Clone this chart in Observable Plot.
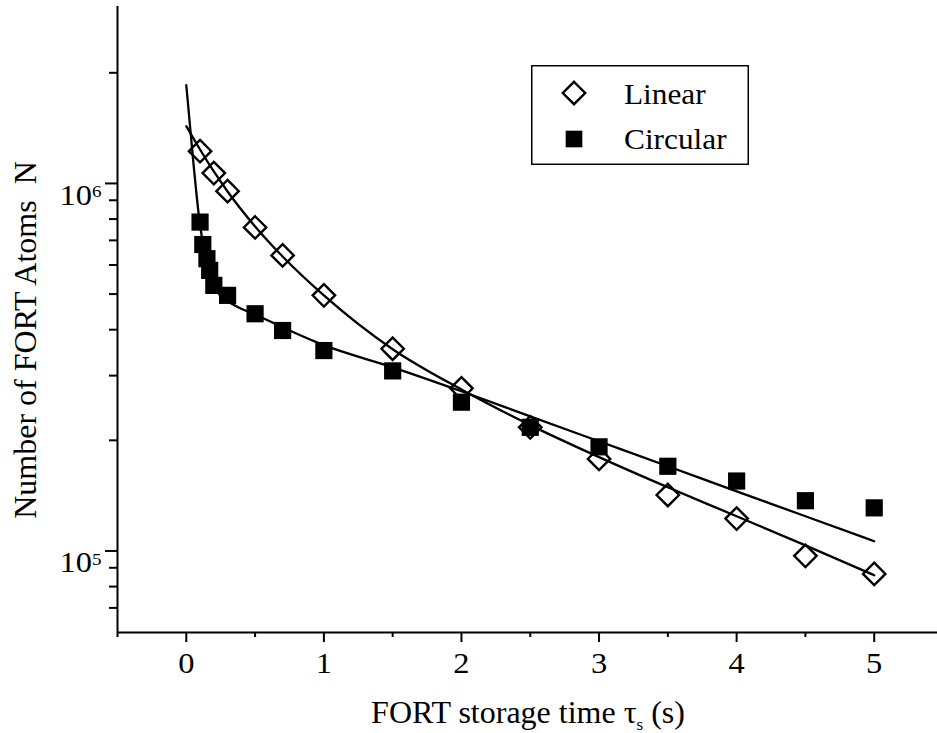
<!DOCTYPE html>
<html>
<head>
<meta charset="utf-8">
<script src="https://cdn.jsdelivr.net/npm/d3@7"></script>
<script src="https://cdn.jsdelivr.net/npm/@observablehq/plot@0.6"></script>
<style>
  body { margin: 0; background: #fff; }
  #wrap { position: relative; width: 937px; height: 733px; overflow: hidden; }
  #legend { position: absolute; left: 531px; top: 65px; }
</style>
</head>
<body>
<div id="wrap"></div>
<script>
// ---- data ----
const linearT = [0.1, 0.2, 0.3, 0.5, 0.7, 1.0, 1.5, 2.0, 2.5, 3.0, 3.5, 4.0, 4.5, 5.0];
const linearN = [1.224e6, 1.067e6, 9.53e5, 7.59e5, 6.37e5, 4.96e5, 3.55e5, 2.77e5, 2.17e5, 1.78e5, 1.42e5, 1.225e5, 9.7e4, 8.66e4];

const circularT = [0.1, 0.12, 0.15, 0.17, 0.2, 0.3, 0.5, 0.7, 1.0, 1.5, 2.0, 2.5, 3.0, 3.5, 4.0, 4.5, 5.0];
const circularN = [7.85e5, 6.82e5, 6.24e5, 5.80e5, 5.28e5, 4.96e5, 4.42e5, 3.98e5, 3.51e5, 3.09e5, 2.54e5, 2.17e5, 1.92e5, 1.70e5, 1.55e5, 1.37e5, 1.31e5];

const linearFitT = [0, 0.1, 0.2, 0.3, 0.5, 0.7, 1.0, 1.5, 2.0, 2.5, 3.0, 3.5, 4.0, 4.5, 5.0];
const linearFitN = [1.432e6, 1.237e6, 1.078e6, 9.51e5, 7.64e5, 6.33e5, 4.96e5, 3.54e5, 2.75e5, 2.20e5, 1.80e5, 1.49e5, 1.243e5, 1.036e5, 8.59e4];

const circularFitT = [0, 0.05, 0.1, 0.15, 0.2, 0.25, 0.3, 0.4, 0.5, 0.7, 1.0, 1.5, 2.0, 2.5, 3.0, 3.5, 4.0, 4.5, 5.0];
const circularFitN = [1.85e6, 1.155e6, 7.69e5, 6.10e5, 5.28e5, 4.93e5, 4.78e5, 4.56e5, 4.40e5, 4.06e5, 3.63e5, 3.16e5, 2.72e5, 2.325e5, 1.988e5, 1.70e5, 1.453e5, 1.243e5, 1.063e5];

const xMajorTicks = [0, 1, 2, 3, 4, 5];
const xMinorTicks = [-0.5, 0.5, 1.5, 2.5, 3.5, 4.5];
const yMajorTicks = [1e5, 1e6];
const yMinorTicks = [7e4, 8e4, 9e4, 2e5, 3e5, 4e5, 5e5, 6e5, 7e5, 8e5, 9e5, 2e6];
const xDomain = [-0.5, 5.46];
const yDomain = [6.0e4, 3.03e6];

const seriesNames = ["Linear", "Circular"];
const xTitle = ["FORT storage time τ", "s", " (s)"];
const yTitle = "Number of FORT Atoms  N";

// ---- tables ----
const zip = (T, N) => T.map((t, i) => ({t, n: N[i]}));
const linear = zip(linearT, linearN);
const circular = zip(circularT, circularN);
const linearFit = zip(linearFitT, linearFitN);
const circularFit = zip(circularFitT, circularFitN);

const font = '"Liberation Serif", "Times New Roman", serif';

const chart = Plot.plot({
  width: 937,
  height: 733,
  marginLeft: 117,
  marginRight: 0,
  marginTop: 6,
  marginBottom: 101,
  style: {fontFamily: font, fontSize: "29px", background: "#fff", color: "#000", overflow: "visible"},
  x: {domain: xDomain, label: null},
  y: {type: "log", domain: yDomain, label: null},
  marks: [
    Plot.axisX({ticks: xMajorTicks, tickSize: 10, tickPadding: 10, strokeWidth: 2, fontSize: 29, tickFormat: d => String(d), label: null}),
    Plot.axisX({ticks: xMinorTicks, tickSize: 5, strokeWidth: 2, tickFormat: () => "", label: null}),
    Plot.axisY({ticks: yMajorTicks, tickSize: 12, tickPadding: 4, strokeWidth: 2, fontSize: 29, tickFormat: d => "10|" + Math.round(Math.log10(d)), label: null}),
    Plot.axisY({ticks: yMinorTicks, tickSize: 8, strokeWidth: 2, tickFormat: () => "", label: null}),
    Plot.ruleY([yDomain[0]], {strokeWidth: 2}),
    Plot.ruleX([xDomain[0]], {strokeWidth: 2}),
    Plot.line(circularFit, {x: "t", y: "n", curve: "monotone-x", stroke: "#000", strokeWidth: 2.3}),
    Plot.line(linearFit, {x: "t", y: "n", curve: "monotone-x", stroke: "#000", strokeWidth: 2.3}),
    Plot.dot(circular, {x: "t", y: "n", symbol: "square", r: 9.7, fill: "#000", stroke: "none"}),
    Plot.dot(linear, {x: "t", y: "n", symbol: "diamond2", r: 10.1, fill: "none", stroke: "#000", strokeWidth: 2.4})
  ]
});

document.getElementById("wrap").appendChild(chart);
const svg = d3.select(chart);

// widen a text horizontally about its anchor
function widen(el, k) {
  const tr = el.getAttribute("transform");
  if (tr) {
    el.setAttribute("transform", tr + ` scale(${k},1)`);
  } else {
    const x = +(el.getAttribute("x") || 0), y = +(el.getAttribute("y") || 0);
    el.removeAttribute("x"); el.removeAttribute("y");
    el.setAttribute("transform", `translate(${x},${y}) scale(${k},1)`);
  }
}

// tick label font
svg.selectAll('g[aria-label$="tick label"] text').attr("font-size", 29).style("font-size", "29px").attr("font-family", font);
svg.selectAll('g[aria-label="x-axis tick label"] text').each(function() { widen(this, 1.12); });

// superscript exponents on y tick labels
svg.selectAll('g[aria-label="y-axis tick label"] text').each(function() {
  const s = this.textContent;
  if (!s.includes("|")) return;
  const [base, exp] = s.split("|");
  const t = d3.select(this);
  t.text(null).attr("dy", "0.42em");
  t.append("tspan").text(base);
  t.append("tspan").attr("dy", "-0.45em").style("font-size", "17px").text(exp);
  widen(this, 1.12);
});

// axis titles
const xt = svg.append("text")
  .attr("x", 528).attr("y", 723)
  .attr("text-anchor", "middle")
  .attr("font-family", font).attr("font-size", 32).attr("fill", "#000");
xt.append("tspan").text(xTitle[0]);
xt.append("tspan").attr("dy", 7).attr("font-size", 17).text(xTitle[1]);
xt.append("tspan").attr("dy", -7).attr("font-size", 32).text(xTitle[2]);

svg.append("text")
  .attr("transform", "translate(36,340) rotate(-90)")
  .attr("text-anchor", "middle")
  .attr("font-family", font).attr("font-size", 32).attr("fill", "#000")
  .attr("xml:space", "preserve").style("white-space", "pre")
  .text(yTitle);

// legend overlay
const lg = d3.select("#wrap").append("svg").attr("id", "legend")
  .attr("width", 219).attr("height", 101);
lg.append("rect").attr("x", 0.75).attr("y", 0.75).attr("width", 216.5).attr("height", 98.5)
  .attr("fill", "#fff").attr("stroke", "#000").attr("stroke-width", 1.5);
const symSize = r => Math.PI * r * r;
lg.append("path").attr("transform", "translate(43,28)")
  .attr("d", d3.symbol(d3.symbolDiamond2, symSize(10.1))())
  .attr("fill", "none").attr("stroke", "#000").attr("stroke-width", 2.4);
lg.append("path").attr("transform", "translate(43,74)")
  .attr("d", d3.symbol(d3.symbolSquare, symSize(9.4))())
  .attr("fill", "#000");
lg.selectAll("text").data(seriesNames).join("text")
  .attr("transform", (d, i) => `translate(93,${39 + i * 45}) scale(1.08,1)`)
  .attr("font-family", font).attr("font-size", 29).attr("fill", "#000")
  .text(d => d);
</script>
</body>
</html>
